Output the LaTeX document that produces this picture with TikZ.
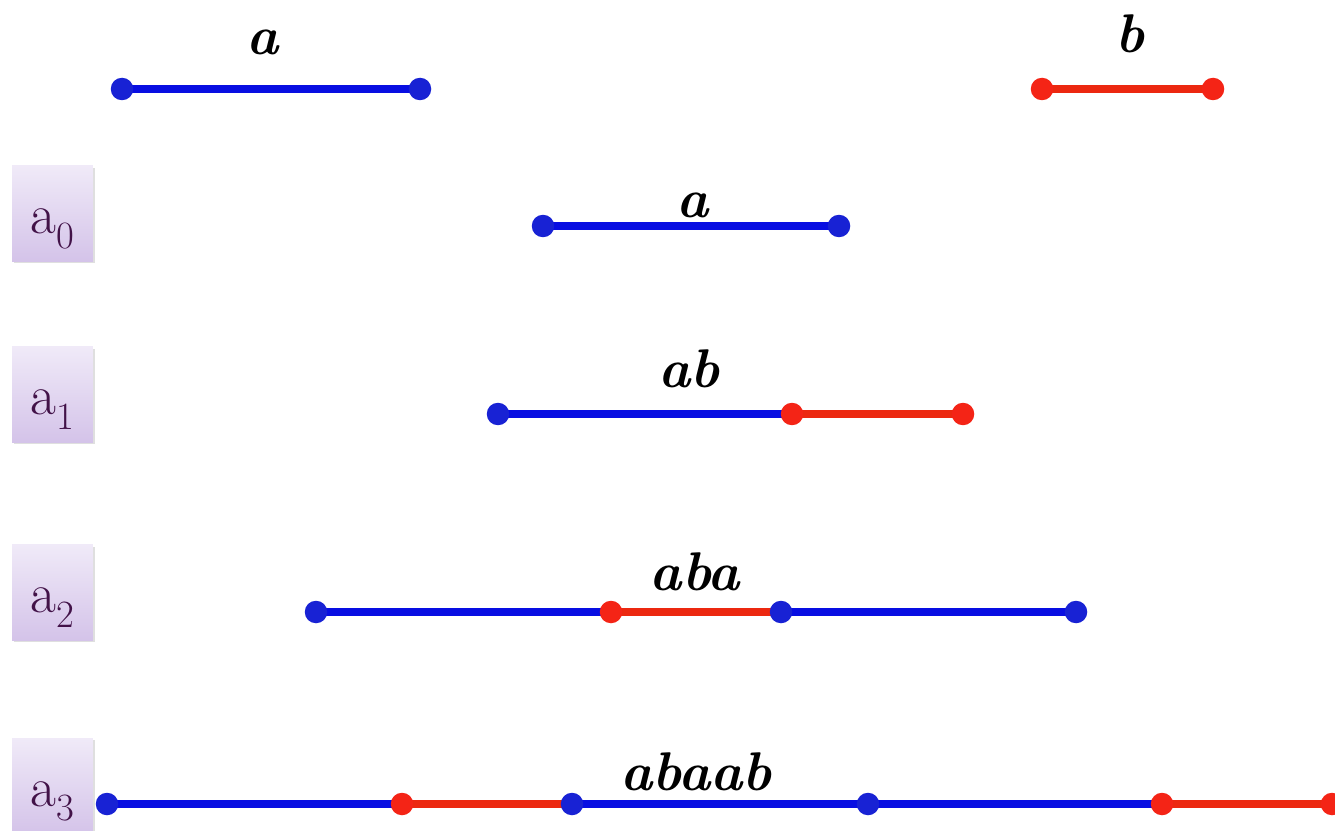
\documentclass[tikz,border=0pt]{standalone}
\usepackage{xcolor}
\usepackage{tikz}
\usetikzlibrary{shadows, backgrounds}

\definecolor{segblue}{RGB}{8,14,226}
\definecolor{dotblue}{RGB}{24,34,212}
\definecolor{segred}{RGB}{236,40,16}
\definecolor{dotred}{RGB}{244,36,22}
\definecolor{tagtop}{RGB}{240,234,248}
\definecolor{tagbot}{RGB}{212,195,233}
\definecolor{taginK}{RGB}{66,18,72}

\newcommand{\tagtext}[1]{a\raisebox{-0.26em}{\fontsize{22}{23}\selectfont #1}}

\begin{document}
\begin{tikzpicture}[
    x=0.02cm, y=-0.02cm,
    bdot/.style={circle, fill=dotblue, inner sep=0pt, minimum size=0.45cm},
    rdot/.style={circle, fill=dotred, inner sep=0pt, minimum size=0.45cm},
    bseg/.style={draw=segblue, line width=0.16cm, shorten <=-4pt, shorten >=-4pt},
    rseg/.style={draw=segred, line width=0.16cm, shorten <=-4pt, shorten >=-4pt},
    word/.style={anchor=base, inner sep=0pt, font=\fontsize{31}{33}\selectfont\bfseries\itshape},
    tag/.style={rectangle, top color=tagtop, bottom color=tagbot, text=taginK,
      minimum width=1.62cm, inner xsep=0pt, inner ysep=0.1cm,
      text height=1.26cm, text depth=0.46cm, font=\fontsize{32}{34}\selectfont,
      drop shadow={opacity=0.25, shadow xshift=0.04cm, shadow yshift=-0.04cm}}
  ]
  \useasboundingbox (0,0) rectangle (1335,831);

  % the two pieces
  \node[bdot] (ta0) at (122,89) {};
  \node[bdot] (ta1) at (420,89) {};
  \node[rdot] (tb0) at (1042,89) {};
  \node[rdot] (tb1) at (1213,89) {};
  \node[word] (wa) at (263,55) {a};
  \node[word] (wb) at (1130,53) {b};

  % a0
  \node[tag] (tag0) at (52.5,213.5) {\tagtext{0}};
  \node[bdot] (p00) at (543,226) {};
  \node[bdot] (p01) at (839,226) {};
  \node[word] (w0) at (693,217) {a};

  % a1
  \node[tag] (tag1) at (52.5,394.5) {\tagtext{1}};
  \node[bdot] (p10) at (498,414) {};
  \node[rdot] (p11) at (792,414) {};
  \node[rdot] (p12) at (963,414) {};
  \node[word] (w1) at (689,387) {ab};

  % a2
  \node[tag] (tag2) at (52.5,592.5) {\tagtext{2}};
  \node[bdot] (p20) at (316,612) {};
  \node[rdot] (p21) at (611,612) {};
  \node[bdot] (p22) at (781,612) {};
  \node[bdot] (p23) at (1076,612) {};
  \node[word] (w2) at (695,590) {aba};

  % a3
  \node[tag] (tag3) at (52.5,786) {\tagtext{3}};
  \node[bdot] (p30) at (107,804) {};
  \node[rdot] (p31) at (402,804) {};
  \node[bdot] (p32) at (572,804) {};
  \node[bdot] (p33) at (868,804) {};
  \node[rdot] (p34) at (1162,804) {};
  \node[rdot] (p35) at (1332,804) {};
  \node[word] (w3) at (696,790) {abaab};

  % segments behind the dots
  \begin{scope}[on background layer]
    \draw[bseg] (ta0) -- (ta1);
    \draw[rseg] (tb0) -- (tb1);
    \draw[bseg] (p00) -- (p01);
    \draw[bseg] (p10) -- (p11);
    \draw[rseg] (p11) -- (p12);
    \draw[bseg] (p20) -- (p21);
    \draw[rseg] (p21) -- (p22);
    \draw[bseg] (p22) -- (p23);
    \draw[bseg] (p30) -- (p31);
    \draw[rseg] (p31) -- (p32);
    \draw[bseg] (p32) -- (p33);
    \draw[bseg] (p33) -- (p34);
    \draw[rseg] (p34) -- (p35);
  \end{scope}
\end{tikzpicture}
\end{document}
